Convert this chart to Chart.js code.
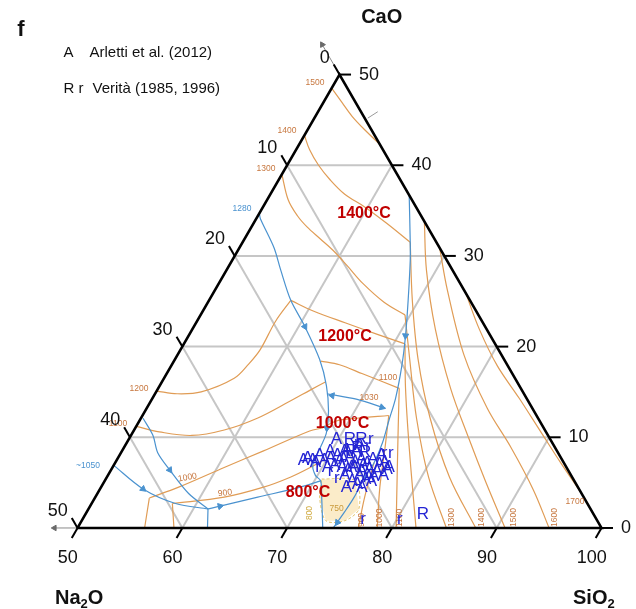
<!DOCTYPE html>
<html>
<head>
<meta charset="utf-8">
<title>Na2O-CaO-SiO2</title>
<script src="https://cdn.jsdelivr.net/npm/chart.js@4.4.1/dist/chart.umd.min.js"></script>
<style>
  html, body { margin: 0; padding: 0; background: #fff; overflow: hidden; }
  canvas { display: block; }
</style>
</head>
<body>
<canvas id="ternary" width="636" height="609"></canvas>
<script>
// every composition is [SiO2, CaO] in wt%, Na2O is the rest up to 100
const siTicks = [50, 60, 70, 80, 90, 100]
const caTicks = [0, 10, 20, 30, 40, 50]
const naTicks = [0, 10, 20, 30, 40, 50]
const gridSteps = [10, 20, 30, 40]

// glass analyses
const arletti = [
    [69.8, 9.8], [71.4, 8.6], [68.1, 7.7], [69.1, 7.2], [69.8, 7.5], [70.3, 7.7], [70.8, 8.0],
    [71.6, 7.6], [72.1, 7.8], [72.9, 7.2], [73.3, 7.6], [74.1, 7.1], [74.4, 7.6], [75.3, 7.0],
    [75.7, 7.2], [71.1, 6.9], [71.9, 6.7], [72.6, 6.4], [73.1, 6.7], [74.0, 6.3], [74.6, 6.5],
    [75.5, 6.2], [76.3, 6.5], [73.6, 5.2], [74.3, 4.8], [74.8, 5.4], [75.4, 5.7], [76.3, 5.8],
    [71.3, 8.4], [69.1, 8.0], [68.7, 7.5], [74.0, 5.8], [71.3, 7.5], [75.5, 5.1],
    [70.5, 6.7], [72.6, 5.8], [72.8, 6.7], [73.8, 6.9], [75.0, 8.0], [76.4, 6.7], [73.4, 4.5],
    [74.9, 4.5], [75.0, 5.6], [72.4, 8.4], [69.9, 8.4], [72.4, 9.1], [67.8, 7.5]
]
const veritaR = [[71.1, 9.8], [72.2, 9.8], [72.3, 8.8], [73.3, 8.3], [71.9, 8.4], [82.2, 1.5]]
const veritaLowR = [
    [73.1, 9.8], [72.0, 9.3], [73.2, 9.0], [75.2, 8.2], [75.8, 8.2], [71.0, 6.3],
    [72.0, 5.5], [69.6, 6.7], [76.8, 0.9], [80.3, 0.9]
]

// liquidus isotherms, one list of segments per temperature
const iso1500 = [
    [[50, 48.5], [51.8, 46.9], [53.5, 45.4], [55.6, 43.8], [57.7, 42.3]],
    [[66.2, 33.8], [69.1, 28.4], [73.2, 21.9], [77.9, 15.4], [82.3, 10.0], [86.4, 5.1], [90.8, 0]]
]
const iso1400 = [
    [[50, 43.3], [51.3, 41.7], [53.0, 40.0], [54.9, 38.4], [57.1, 36.8], [59.7, 35.4], [62.7, 33.6], [66.0, 31.5]],
    [[66.0, 31.5], [69.4, 25.1], [73.2, 18.6], [77.6, 12.1], [82.7, 5.6], [88.0, 0]]
]
const iso1300 = [
    [[50, 39.0], [52.0, 36.2], [53.8, 34.4], [55.3, 33.2], [57.2, 31.9], [59.1, 30.6], [61.3, 28.9], [63.7, 27.0], [66.8, 24.9], [69.5, 23.5]],
    [[69.5, 23.5], [72.4, 18.6], [76.3, 12.1], [80.7, 5.6], [85.2, 0]]
]
const iso1200 = [
    [[50, 15.1], [52.1, 14.8], [54.3, 15.0], [56.7, 16.5], [57.3, 18.1], [57.6, 19.7], [57.5, 22.8], [57.8, 25.1]],
    [[57.8, 25.1], [60.6, 23.9], [64.3, 22.6], [68.1, 21.3], [71.1, 20.3]],
    [[71.1, 20.3], [73.6, 15.4], [77.2, 8.9], [82.3, 0]]
]
const iso1100 = [
    [[50, 11.2], [52.5, 10.6], [55.8, 10.2], [58.6, 10.8], [61.1, 12.1], [63.3, 14.0], [64.6, 15.2], [65.6, 16.1]],
    [[64.0, 18.4], [66.0, 18.0], [68.7, 17.0], [73.0, 15.4]],
    [[73.0, 15.4], [75.1, 11.0], [77.7, 5.6], [80.4, 0]]
]
const iso1000 = [
    [[56.4, 0], [55.2, 3.3]],
    [[55.2, 3.3], [57.4, 4.5], [60.7, 6.7], [63.5, 8.5], [66.8, 10.7], [67.8, 11.0]],
    [[67.8, 11.0], [68.8, 11.8], [70.6, 12.1], [73.5, 12.4]],
    [[73.5, 12.4], [74.9, 8.9], [76.6, 4.5], [78.6, 0]]
]
const iso900 = [
    [[59.2, 0], [57.7, 2.7]],
    [[57.7, 2.7], [62.3, 3.4], [65.5, 4.5], [67.5, 5.6], [68.9, 6.7], [69.8, 7.6]],
    [[74.7, 7.2], [75.7, 3.4], [76.8, 0]]
]
const iso1600 = [[[69.1, 30.9], [72.2, 26.2], [77.4, 19.0], [82.5, 13.2], [86.9, 8.9], [91.4, 4.2], [95.0, 0]]]
const iso1700 = [[[74.1, 25.9], [77.4, 21.9], [81.1, 17.9], [85.0, 14.3], [88.8, 10.7], [92.5, 7.2], [96.2, 3.8]]]

// field boundaries
const bndWollastonite = [
    [50, 34.7], [50.4, 34.1], [53.3, 30.9], [55.2, 28.4], [57.8, 25.1], [60.6, 22.2], [63.8, 18.6],
    [65.9, 15.7], [67.5, 12.9], [68.5, 10.5], [68.7, 9.2], [68.8, 8.1], [69.0, 6.9], [69.8, 5.8],
    [70.6, 5.2], [71.6, 3.4], [73.4, 0]
]
const bndSilica = [
    [63.3, 36.7], [66.0, 31.5], [67.0, 29.5], [69.0, 25.1], [70.7, 21.2], [72.0, 17.9], [73.2, 14.3],
    [73.8, 11.8], [74.4, 9.4], [74.7, 7.2], [74.6, 5.6], [74.7, 3.4], [74.6, 1.8], [74.4, 0]
]
const bnd1030 = [[66.4, 14.8], [69.5, 14.2], [72.8, 13.2]]
const bndLow = [[61.4, 2.1], [62.4, 2.4], [65.5, 3.4], [69.0, 4.5], [70.6, 5.2]]
const bnd1050 = [[50, 6.9], [54.1, 4.3], [58.0, 2.7], [61.4, 2.1]]
const bnd1100 = [[50.2, 12.1], [52.1, 10.2], [53.5, 8.3], [55.6, 6.4], [58.7, 3.8], [61.4, 2.1]]
const bndJoin = [[61.4, 2.1], [62.4, 0]]
const lowArea = [[70.6, 5.4], [73.9, 5.2], [75.8, 2.1], [75.1, 0.8], [73.3, 0.8], [71.4, 3.4]]

// arrows on the boundaries: [from, to]
const flowArrows = [
    [[57.8, 25.1], [60.6, 22.2]],
    [[67.5, 12.9], [68.3, 11.0]],
    [[69.0, 25.1], [70.7, 21.2]],
    [[61.4, 2.1], [62.4, 2.4]],
    [[50, 6.9], [54.1, 4.3]],
    [[53.5, 8.3], [55.6, 6.4]],
    [[69.5, 14.2], [67.0, 14.6]],
    [[69.5, 14.2], [72.4, 13.3]],
    [[74.6, 1.8], [74.5, 0.6]]
]
const axisArrows = [
    [[50, 50], [46.7, 53.3]],
    [[50, 0], [47.8, 0]]
]

const FONT = "'Liberation Sans', Arial, sans-serif"
const GRID = '#c6c6c6'
const ORANGE = '#e09c55'
const BLUE = '#4a92cf'
const DOTS = '#2424d4'
const SQ = Math.sqrt(3) / 2

function tern(p) {
    return { x: p[0] + p[1] / 2, y: p[1] * SQ }
}

function heading(a, b) {
    const p = tern(a), q = tern(b)
    return Math.atan2(q.x - p.x, q.y - p.y) * 180 / Math.PI
}

const datasets = []
function addLine(pts, color, width, order, extra) {
    datasets.push(Object.assign({
        data: pts.map(tern),
        showLine: true,
        borderColor: color,
        borderWidth: width,
        pointRadius: 0,
        pointHoverRadius: 0,
        fill: false,
        tension: 0,
        order: order
    }, extra || {}))
}

// grid
gridSteps.forEach(v => {
    addLine([[50, v], [100 - v, v]], GRID, 2, 9)
    addLine([[50 + v, 0], [50 + v, 50 - v]], GRID, 2, 9)
    addLine([[100 - v, 0], [50, 50 - v]], GRID, 2, 9)
})

// isotherms
const isotherms = [iso1500, iso1400, iso1300, iso1200, iso1100, iso1000, iso900, iso1600, iso1700]
isotherms.forEach(segs => segs.forEach(s => addLine(s, ORANGE, 1.2, 8, { tension: 0.35 })))

// boundaries
const boundaries = [bndWollastonite, bndSilica, bnd1030, bndLow, bnd1050, bnd1100, bndJoin]
boundaries.forEach(b => addLine(b, BLUE, 1.2, 7, { tension: 0.3 }))
addLine(lowArea.concat([lowArea[0]]), '#e3c46a', 1, 7, { borderDash: [3, 2], tension: 0.3 })

// triangle and ticks
addLine([[50, 0], [100, 0], [50, 50], [50, 0]], '#000', 2.6, 3, { borderJoinStyle: 'miter' })
siTicks.forEach(s => addLine([[s, 0], [s, -1.1]], '#000', 2, 3))
caTicks.forEach(c => addLine([[100 - c, c], [101.1 - c, c]], '#000', 2, 3))
naTicks.forEach(n => addLine([[50, 50 - n], [48.9, 51.1 - n]], '#000', 2, 3))
axisArrows.forEach(a => addLine(a, '#8a8a8a', 1, 4))
addLine([[55.1, 45.2], [55.7, 45.9]], '#9a9a9a', 1, 4)

datasets.push({
    data: flowArrows.map(a => tern(a[1])),
    showLine: false,
    pointStyle: 'triangle',
    pointRadius: 3.6,
    pointRotation: flowArrows.map(a => heading(a[0], a[1])),
    backgroundColor: BLUE,
    borderColor: BLUE,
    borderWidth: 1,
    order: 1
})
datasets.push({
    data: axisArrows.map(a => tern(a[1])),
    showLine: false,
    pointStyle: 'triangle',
    pointRadius: 3.2,
    pointRotation: axisArrows.map(a => heading(a[0], a[1])),
    backgroundColor: '#6a6a6a',
    borderColor: '#6a6a6a',
    borderWidth: 1,
    order: 1
})

// glass points, drawn as letters
datasets.push({ data: arletti.map(tern), letter: 'A', showLine: false, pointRadius: 0, order: 0 })
datasets.push({ data: veritaR.map(tern), letter: 'R', showLine: false, pointRadius: 0, order: 0 })
datasets.push({ data: veritaLowR.map(tern), letter: 'r', showLine: false, pointRadius: 0, order: 0 })

const areaFill = {
    id: 'areaFill',
    beforeDatasetsDraw(chart) {
        const ctx = chart.ctx, xs = chart.scales.x, ys = chart.scales.y
        ctx.save()
        ctx.beginPath()
        lowArea.forEach((p, i) => {
            const q = tern(p)
            const X = xs.getPixelForValue(q.x), Y = ys.getPixelForValue(q.y)
            if (i) ctx.lineTo(X, Y); else ctx.moveTo(X, Y)
        })
        ctx.closePath()
        ctx.fillStyle = '#fbecc9'
        ctx.fill()
        ctx.restore()
    }
}

const textLayer = {
    id: 'textLayer',
    afterDatasetsDraw(chart) {
        const ctx = chart.ctx, xs = chart.scales.x, ys = chart.scales.y
        const at = p => { const q = tern(p); return [xs.getPixelForValue(q.x), ys.getPixelForValue(q.y)] }
        function put(txt, x, y, font, color, align, rot) {
            ctx.save()
            ctx.translate(x, y)
            if (rot) ctx.rotate(rot * Math.PI / 180)
            ctx.font = font
            ctx.fillStyle = color
            ctx.textAlign = align || 'center'
            ctx.textBaseline = 'middle'
            ctx.fillText(txt, 0, 0)
            ctx.restore()
        }

        // small isotherm labels
        const small = '8.5px ' + FONT
        const isoNotes = [
            ['1500', 315, 83, 0], ['1400', 287, 130.5, 0], ['1300', 266, 169, 0], ['1200', 139, 388.5, 0],
            ['1100', 118, 424, 0], ['1000', 187.5, 477.5, -10], ['900', 225, 493, -8], ['1100', 388, 377.5, 0],
            ['1030', 369, 397.5, 0], ['1700', 575, 502, 0],
            ['900', 361.7, 520, -90], ['1000', 380, 518, -90], ['1100', 400, 518, -90], ['1300', 451.7, 517.5, -90],
            ['1400', 481.7, 517.5, -90], ['1500', 513.3, 517.5, -90], ['1600', 555, 517.5, -90]
        ]
        isoNotes.forEach(n => put(n[0], n[1], n[2], small, '#c7773f', 'center', n[3]))
        put('1280', 242, 208.5, small, '#4a92cf')
        put('~1050', 88, 465.5, small, '#4a92cf')
        put('800', 310, 513, small, '#d2ad45', 'center', -90)
        put('750', 336.7, 508.3, small, '#c99b3c')

        // big temperature labels
        const red = 'bold 16px ' + FONT
        put('1400°C', 364, 213.3, red, '#c00000')
        put('1200°C', 345, 336.5, red, '#c00000')
        put('1000°C', 342.5, 424, red, '#c00000')
        put('800°C', 308, 492.5, red, '#c00000')

        // tick labels
        const tick = '18px ' + FONT
        siTicks.forEach(s => { const e = at([s, -1.1]); put(String(s), e[0] - 4, e[1] + 20, tick, '#111') })
        caTicks.forEach(c => { const e = at([101.1 - c, c]); put(String(c), e[0] + 8, e[1], tick, '#111', 'left') })
        naTicks.forEach(n => { const e = at([48.9, 51.1 - n]); put(String(n), e[0] - 4, e[1] - 7, tick, '#111', 'right') })

        // glass points
        chart.data.datasets.forEach((ds, i) => {
            if (!ds.letter) return
            chart.getDatasetMeta(i).data.forEach(el => put(ds.letter, el.x, el.y, '17px ' + FONT, DOTS))
        })

        // titles and legend
        const bold = 'bold 20px ' + FONT
        put('CaO', 381.7, 17.5, bold, '#111')
        put('f', 21, 30, 'bold 22px ' + FONT, '#111')
        ctx.save()
        ctx.fillStyle = '#111'
        ctx.textBaseline = 'alphabetic'
        ctx.textAlign = 'left'
        let x = 55
        ctx.font = bold; ctx.fillText('Na', x, 604); x += ctx.measureText('Na').width
        ctx.font = 'bold 13px ' + FONT; ctx.fillText('2', x, 607.5); x += ctx.measureText('2').width
        ctx.font = bold; ctx.fillText('O', x, 604)
        x = 573
        ctx.font = bold; ctx.fillText('SiO', x, 604); x += ctx.measureText('SiO').width
        ctx.font = 'bold 13px ' + FONT; ctx.fillText('2', x, 607.5)
        ctx.restore()

        const leg = '15px ' + FONT
        put('A', 63.5, 52.5, leg, '#111', 'left')
        put('Arletti et al. (2012)', 89.5, 52.5, leg, '#111', 'left')
        put('R r', 63.5, 89, leg, '#111', 'left')
        put('Verità (1985, 1996)', 92.5, 89, leg, '#111', 'left')
    }
}

new Chart(document.getElementById('ternary'), {
    type: 'scatter',
    data: { datasets: datasets },
    options: {
        responsive: false,
        animation: false,
        events: [],
        layout: { padding: 0 },
        plugins: {
            legend: { display: false },
            tooltip: { enabled: false }
        },
        scales: {
            x: { type: 'linear', min: 43.077, max: 102.818, display: false },
            y: { type: 'linear', min: -7.261, max: 49.944, display: false }
        }
    },
    plugins: [areaFill, textLayer]
})
</script>
</body>
</html>
